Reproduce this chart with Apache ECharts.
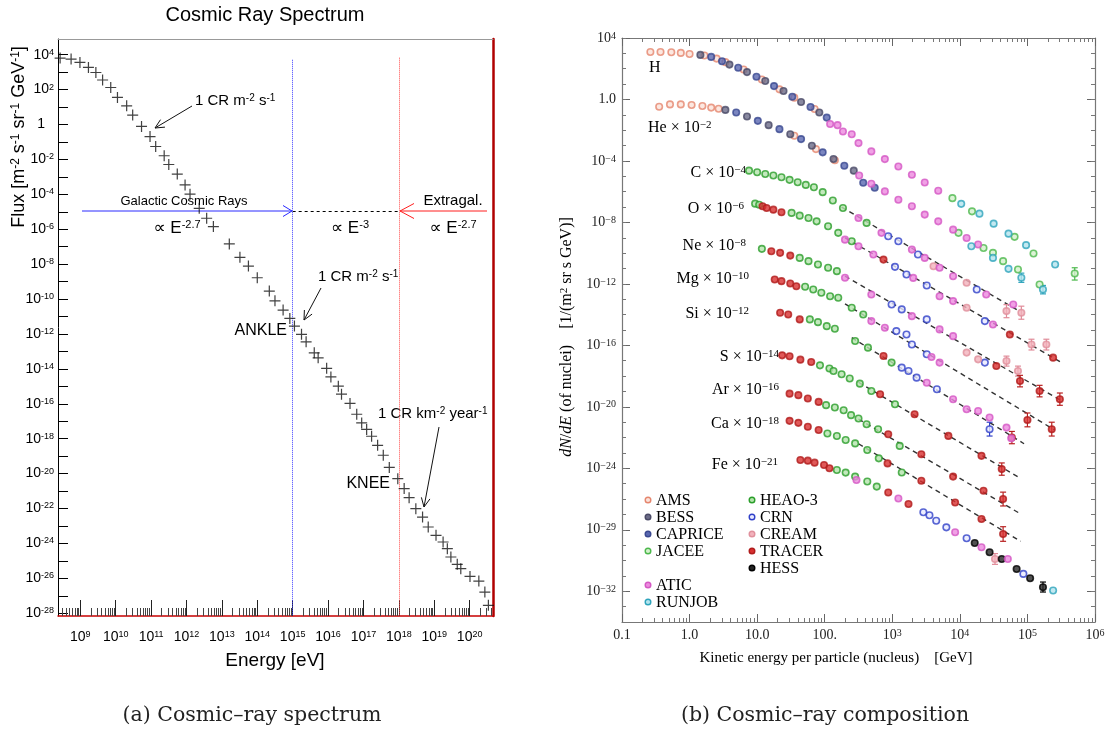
<!DOCTYPE html>
<html>
<head>
<meta charset="utf-8">
<title>Cosmic ray spectrum / composition</title>
<script src="https://cdn.jsdelivr.net/npm/echarts@6/dist/echarts.min.js"></script>
<style>
  html, body { margin: 0; padding: 0; background: #fff; }
  #chart { width: 1107px; height: 733px; }
</style>
</head>
<body>
<div id="chart"></div>
<script>
// ---------- (a) all-particle spectrum: log10(E/eV), log10(flux) ----------
var spectrumLogE = [8.43, 8.74, 8.99, 9.23, 9.44, 9.63, 9.86, 10.05, 10.31, 10.48, 10.73, 10.97, 11.13, 11.37, 11.50,
  11.74, 11.96, 12.10, 12.36, 12.57, 12.76, 13.21, 13.51, 13.75, 14.00, 14.34, 14.50, 14.73, 14.92, 15.05, 15.25,
  15.38, 15.61, 15.72, 15.96, 16.08, 16.29, 16.38, 16.62, 16.81, 16.95, 17.09, 17.23, 17.40, 17.56, 17.73, 17.97,
  18.15, 18.29, 18.48, 18.67, 18.83, 19.05, 19.25, 19.37, 19.47, 19.65, 19.75, 20.01, 20.26, 20.43, 20.53];
var spectrumLogFlux = [3.81, 3.75, 3.56, 3.27, 2.98, 2.55, 2.12, 1.55, 1.07, 0.54, -0.11, -0.69, -1.26, -1.79, -2.29,
  -2.84, -3.46, -3.99, -4.80, -5.37, -5.85, -6.84, -7.61, -8.11, -8.78, -9.54, -10.10, -10.63, -11.11, -11.55, -12.02,
  -12.45, -13.08, -13.37, -13.97, -14.46, -14.99, -15.45, -15.98, -16.60, -17.10, -17.47, -17.86, -18.38, -18.95, -19.65, -20.29,
  -20.86, -21.38, -22.01, -22.49, -23.06, -23.54, -23.92, -24.30, -24.78, -25.20, -25.45, -25.89, -26.16, -26.79, -27.55];
var leftXTicks = [9, 10, 11, 12, 13, 14, 15, 16, 17, 18, 19, 20];
var leftYTicks = [-28, -26, -24, -22, -20, -18, -16, -14, -12, -10, -8, -6, -4, -2, 0, 2, 4];
var kneeAnkleE = [15, 18];

// ---------- (b) composition: [log10(E/GeV), log10(dN/dE)] per experiment ----------
var amsPts = [[-0.58,3.09],[-0.43,3.09],[-0.27,3.07],[-0.13,3.03],[0.00,2.96],[0.22,2.86],[0.40,2.66],[0.53,2.43],
  [0.80,1.95],[1.07,1.30],[1.33,0.66],[1.55,0.12],[1.85,-0.62],
  [-0.45,-0.47],[-0.29,-0.32],[-0.13,-0.32],[0.03,-0.36],[0.19,-0.42],[0.32,-0.53],[0.43,-0.60],[1.55,-2.36],[1.87,-3.23],[2.15,-3.95]];
var bessPts = [[0.16,2.90],[0.59,2.27],[0.85,1.78],[1.12,1.20],[1.39,0.55],[1.65,-0.16],[1.92,-0.85],
  [0.53,-0.68],[0.85,-1.11],[1.17,-1.67],[1.49,-2.26],[1.81,-3.01],[2.13,-3.87],[2.43,-4.63]];
var capricePts = [[0.32,2.77],[0.48,2.49],[0.72,2.06],[0.99,1.48],[1.25,0.87],[1.52,0.18],[1.79,-0.49],[2.03,-1.18],
  [0.69,-0.85],[1.01,-1.39],[1.33,-1.93],[1.65,-2.58],[1.97,-3.44],[2.29,-4.31],[2.57,-5.42],[2.74,-5.74]];
var jaceePts = [[3.89,-6.42],[4.18,-7.28],[4.81,-8.94],[5.09,-10.02],[5.70,-11.32],
  [3.98,-8.68],[4.35,-9.66],[4.49,-9.98],[4.64,-10.52],[4.86,-11.06],[5.18,-12.04]];
var heaoPts = [[0.88,-4.63],[1.00,-4.74],[1.12,-4.85],[1.24,-4.95],[1.36,-5.06],[1.48,-5.23],[1.60,-5.39],[1.72,-5.56],
  [1.84,-5.71],[1.97,-6.03],[2.12,-6.57],[2.27,-7.06],[2.62,-8.03],
  [0.97,-6.78],[1.03,-6.85],[1.51,-7.38],[1.63,-7.56],[1.76,-7.71],[1.88,-7.93],[2.05,-8.25],[2.20,-8.68],[2.40,-9.23],
  [1.07,-9.72],[1.63,-10.31],[1.76,-10.52],[1.90,-10.74],[2.05,-10.95],[2.18,-11.17],
  [1.71,-12.19],[1.83,-12.36],[1.95,-12.58],[2.08,-12.80],[2.20,-12.90],[2.40,-13.55],[2.57,-13.99],
  [1.78,-14.31],[1.90,-14.49],[2.03,-14.75],[2.15,-14.92],[2.45,-15.72],[2.64,-16.15],[2.99,-17.12],
  [1.93,-17.30],[2.07,-17.51],[2.13,-17.67],[2.25,-17.88],[2.37,-18.16],[2.52,-18.49],[2.69,-18.97],[3.04,-19.83],
  [2.02,-19.89],[2.15,-20.04],[2.28,-20.22],[2.39,-20.54],[2.50,-20.76],[2.62,-21.13],[2.79,-21.46],[3.11,-22.54],
  [2.04,-21.73],[2.18,-21.90],[2.31,-22.16],[2.45,-22.38],[2.63,-22.81],[2.80,-23.35],[3.14,-24.27],
  [2.18,-24.11],[2.31,-24.28],[2.45,-24.54],[2.63,-24.86],[2.77,-25.19]];
var crnPts = [[2.94,-8.90],[3.09,-9.23],[3.38,-10.09],[4.25,-12.36],
  [3.04,-10.89],[3.21,-11.39],[3.51,-12.10],[4.37,-14.42],
  [2.99,-13.34],[3.14,-13.66],[3.51,-14.31],[4.37,-17.12],
  [3.06,-15.07],[3.21,-15.29],[3.29,-15.94],[3.51,-16.58],
  [3.14,-17.45],[3.24,-17.67],[3.36,-18.10],[3.66,-18.86],[4.44,-21.46],
  [3.46,-26.86],[3.55,-27.05],[3.65,-27.41],[3.80,-27.84],[4.10,-28.55],[4.94,-30.87]];
var creamPts = [[3.61,-10.85],[4.10,-11.93],[4.69,-13.77],[4.91,-13.88],
  [4.10,-13.55],[5.06,-15.94],[5.28,-15.94],
  [4.10,-16.47],[4.27,-16.91],[4.69,-17.02],[4.86,-17.67],
  [4.52,-29.90]];
var tracerPts = [[1.08,-6.95],[1.14,-7.06],[1.24,-7.17],[1.36,-7.34],[2.87,-10.42],[4.74,-15.29],[5.38,-16.80],
  [1.21,-9.88],[1.34,-9.98],[1.49,-10.16],[4.54,-17.34],[4.89,-18.32],[5.18,-18.97],[5.48,-19.51],
  [1.26,-11.71],[1.36,-11.82],[1.49,-11.97],[1.58,-12.15],[5.00,-20.86],[5.36,-21.46],
  [1.34,-13.88],[1.46,-13.99],[1.63,-14.31],[2.87,-16.69],[4.77,-22.00],
  [1.37,-16.65],[1.48,-16.71],[1.64,-16.93],[1.80,-17.08],[2.82,-19.18],[3.33,-20.48],[3.83,-21.89],[4.32,-23.19],[4.62,-24.05],
  [1.48,-19.14],[1.61,-19.24],[1.75,-19.46],[1.91,-19.68],[2.94,-21.78],[3.43,-23.08],[3.90,-24.54],[4.35,-25.46],[4.64,-26.00],
  [1.48,-20.91],[1.61,-21.04],[1.75,-21.30],[1.91,-21.51],[2.93,-23.68],[3.43,-24.81],[3.93,-26.22],[4.32,-27.30],[4.64,-28.27],
  [1.64,-23.46],[1.75,-23.50],[1.85,-23.63],[1.99,-23.78],[2.07,-24.00],[2.94,-25.57],[3.24,-26.32]];
var hessPts = [[4.22,-28.86],[4.44,-29.46],[4.62,-29.90],[4.84,-30.55],[5.04,-31.15],[5.23,-31.74]];
var aticPts = [[2.08,-1.60],[2.19,-1.67],[2.27,-2.08],[2.40,-2.26],[2.50,-2.84],[2.69,-3.38],[2.89,-3.88],[3.09,-4.36],[3.29,-4.90],[3.48,-5.40],[3.68,-5.94],
  [2.51,-4.95],[2.69,-5.48],[2.89,-5.98],[3.09,-6.52],[3.29,-6.95],[3.48,-7.49],[3.68,-7.93],[3.90,-8.47],[4.10,-9.01],[4.27,-9.44],
  [2.50,-7.71],[2.84,-8.68],[3.29,-9.77],[3.48,-10.31],[3.70,-10.95],[3.90,-11.50],[4.39,-12.69],[4.79,-13.34],
  [2.30,-9.12],[2.50,-9.55],[2.72,-10.09],[3.31,-11.61],[3.70,-12.80],[3.90,-13.12],[4.49,-14.64],
  [2.30,-11.60],[2.69,-12.69],[3.29,-14.10],[3.70,-14.96],[3.90,-15.40],
  [2.69,-14.42],[2.89,-14.85],[3.58,-16.76],[3.70,-17.12],
  [3.51,-18.43],[3.90,-19.51],[4.10,-20.16],[4.27,-20.27],[4.44,-20.69],[4.69,-21.35],[4.76,-22.05],
  [2.47,-24.76],[3.09,-25.96],[3.93,-28.16],[4.32,-29.14],[4.71,-29.90]];
var runjobPts = [[4.02,-6.79],[4.29,-7.43],[4.50,-8.08],[4.72,-8.73],[4.98,-9.48],[5.41,-10.74],
  [4.17,-9.55],[4.49,-10.31],[4.72,-11.02],[4.91,-11.60],[5.23,-12.36],
  [5.38,-31.95]];

// error bars: [log10 E, low, high]
var jaceeErr = [[5.70,-11.75,-10.95]];
var runjobErr = [[4.91,-11.90,-11.30],[5.23,-12.65,-12.10]];
var creamErr = [[4.69,-14.20,-13.35],[4.91,-14.30,-13.45],[5.06,-16.30,-15.60],[5.28,-16.30,-15.60],[4.69,-17.35,-16.70],[4.86,-18.00,-17.35],[4.52,-30.25,-29.55]];
var tracerErr = [[4.62,-24.45,-23.65],[4.64,-26.45,-25.55],[4.64,-28.75,-27.80],[4.89,-18.70,-17.95],[5.18,-19.35,-18.60],[5.48,-19.90,-19.10],[5.00,-21.30,-20.40],[5.36,-21.90,-21.00],[4.77,-22.40,-21.60]];
var crnErr = [[4.44,-21.90,-21.00]];
var hessErr = [[5.23,-32.05,-31.40]];

// dashed power-law fits, [[E1,F1],[E2,F2]]
var fitLines = [
  [[2.25,-7.00],[4.85,-13.70]],
  [[2.30,-9.00],[5.50,-17.10]],
  [[2.30,-11.50],[5.50,-19.60]],
  [[2.30,-13.30],[5.40,-21.50]],
  [[2.40,-15.50],[4.95,-22.40]],
  [[2.50,-18.40],[4.90,-24.66]],
  [[2.50,-20.80],[4.90,-26.97]],
  [[2.50,-22.40],[4.90,-28.75]]
];
var rightXTicks = [-1, 0, 1, 2, 3, 4, 5, 6];
var rightXLabels = ['0.1', '1.0', '10.0', '100.', '10{s|3}', '10{s|4}', '10{s|5}', '10{s|6}'];
var rightYTicks = [4, 0, -4, -8, -12, -16, -20, -24, -28, -32];
var rightYLabels = ['10{s|4}', '1.0', '10{s|−4}', '10{s|−8}', '10{s|−12}', '10{s|−16}', '10{s|−20}', '10{s|−24}', '10{s|−29}', '10{s|−32}'];

// ---------------------------------------------------------------
var SANS = 'Liberation Sans, Arial, DejaVu Sans, sans-serif';
var SERIF = 'Liberation Serif, Times New Roman, DejaVu Serif, serif';

function range(a, b) { var r = []; for (var i = a; i <= b; i++) r.push(i); return r; }
function logMinor(lo, hi) {
  var out = [];
  for (var n = Math.floor(lo); n <= Math.ceil(hi); n++) {
    for (var k = 2; k <= 9; k++) {
      var v = n + Math.log10(k);
      if (v > lo && v < hi) out.push(v);
    }
  }
  return out;
}
function supRich(font, base, sup, color) {
  return {
    b: { fontFamily: font, fontSize: base, lineHeight: base, verticalAlign: 'middle', color: color },
    s: { fontFamily: font, fontSize: sup, lineHeight: 3, verticalAlign: 'top', color: color },
    one: { fontFamily: font, fontSize: base, lineHeight: base, color: color, padding: [0, 9, 0, 0] }
  };
}
var richL = supRich(SANS, 14, 9, '#000');
var richR = supRich(SERIF, 14, 10, '#222');

var LX = [8.37, 20.66], LY = [-28.16, 4.9];
var RX = [-1, 6], RY = [-34, 4];

function plainAxis(grid, pos, mm, line) {
  return {
    gridIndex: grid, type: 'value', position: pos, min: mm[0], max: mm[1],
    axisLine: { show: true, onZero: false, lineStyle: line },
    axisTick: { show: false }, axisLabel: { show: false }, splitLine: { show: false }
  };
}
function tickAxis(grid, pos, mm, vals, len, color) {
  return {
    gridIndex: grid, type: 'value', position: pos, min: mm[0], max: mm[1],
    axisLine: { show: false, onZero: false },
    axisTick: { show: true, inside: true, length: len, customValues: vals, lineStyle: { color: color, width: 1 } },
    axisLabel: { show: false }, splitLine: { show: false }
  };
}

var xAxes = [
  // 0: left panel, bottom, decades + labels
  {
    gridIndex: 0, type: 'value', position: 'bottom', min: LX[0], max: LX[1],
    axisLine: { show: true, onZero: false, lineStyle: { color: '#c80000', width: 1.5 } },
    axisTick: { show: true, inside: true, length: 16, customValues: leftXTicks, lineStyle: { color: '#222' } },
    axisLabel: { show: true, customValues: leftXTicks, margin: 14, rich: richL,
      formatter: function (v) { return '{b|10}{s|' + v + '}'; } },
    splitLine: { show: false }
  },
  // 1: left panel, log minor ticks
  tickAxis(0, 'bottom', LX, logMinor(LX[0], LX[1]), 8, '#444'),
  // 2: left panel top border
  plainAxis(0, 'top', LX, { color: '#999', width: 1 }),
  // 3: right panel bottom, decades + labels
  {
    gridIndex: 1, type: 'value', position: 'bottom', min: RX[0], max: RX[1],
    axisLine: { show: true, onZero: false, lineStyle: { color: '#777', width: 1.2 } },
    axisTick: { show: true, inside: true, length: 8, customValues: rightXTicks, lineStyle: { color: '#666' } },
    axisLabel: { show: true, customValues: rightXTicks, margin: 6, rich: richR,
      formatter: function (v) { var t = rightXLabels[rightXTicks.indexOf(v)]; return t.indexOf('{') < 0 ? '{b|' + t + '}' : t.replace('10{', '{b|10}{'); } },
    splitLine: { show: false }
  },
  tickAxis(1, 'bottom', RX, logMinor(RX[0], RX[1]), 4, '#777'),
  {
    gridIndex: 1, type: 'value', position: 'top', min: RX[0], max: RX[1],
    axisLine: { show: true, onZero: false, lineStyle: { color: '#777', width: 1.2 } },
    axisTick: { show: true, inside: true, length: 8, customValues: rightXTicks, lineStyle: { color: '#666' } },
    axisLabel: { show: false }, splitLine: { show: false }
  },
  tickAxis(1, 'top', RX, logMinor(RX[0], RX[1]), 4, '#777')
];

var yAxes = [
  // 0: left panel flux axis
  {
    gridIndex: 0, type: 'value', position: 'left', min: LY[0], max: LY[1],
    axisLine: { show: true, onZero: false, lineStyle: { color: '#000', width: 1 } },
    axisTick: { show: true, inside: true, length: 10, customValues: range(-28, 4), lineStyle: { color: '#000' } },
    axisLabel: { show: true, customValues: leftYTicks, margin: 4, rich: richL,
      formatter: function (v) { return v === 0 ? '{one|1}' : '{b|10}{s|' + v + '}'; } },
    splitLine: { show: false }
  },
  // 1: left panel right border
  plainAxis(0, 'right', LY, { color: '#b00000', width: 2.5 }),
  // 2: right panel left axis
  {
    gridIndex: 1, type: 'value', position: 'left', min: RY[0], max: RY[1],
    axisLine: { show: true, onZero: false, lineStyle: { color: '#777', width: 1.2 } },
    axisTick: { show: true, inside: true, length: 8, customValues: rightYTicks, lineStyle: { color: '#666' } },
    axisLabel: { show: true, customValues: rightYTicks, margin: 6, rich: richR,
      formatter: function (v) { var t = rightYLabels[rightYTicks.indexOf(v)]; return t.indexOf('{') < 0 ? '{b|' + t + '}' : t.replace('10{', '{b|10}{'); } },
    splitLine: { show: false }
  },
  tickAxis(1, 'left', RY, range(-34, 4), 4, '#777'),
  {
    gridIndex: 1, type: 'value', position: 'right', min: RY[0], max: RY[1],
    axisLine: { show: true, onZero: false, lineStyle: { color: '#777', width: 1.2 } },
    axisTick: { show: true, inside: true, length: 8, customValues: rightYTicks, lineStyle: { color: '#666' } },
    axisLabel: { show: false }, splitLine: { show: false }
  },
  tickAxis(1, 'right', RY, range(-34, 4), 4, '#777')
];

var plusSymbol = 'path://M4.45,0H5.55V4.45H10V5.55H5.55V10H4.45V5.55H0V4.45H4.45Z';

var series = [];
series.push({
  type: 'scatter', xAxisIndex: 0, yAxisIndex: 0,
  data: spectrumLogE.map(function (e, i) { return [e, spectrumLogFlux[i]]; }),
  symbol: plusSymbol, symbolSize: 11, itemStyle: { color: '#111' }, z: 5,
  markLine: {
    silent: true, symbol: 'none', label: { show: false },
    data: [
      [{ coord: [kneeAnkleE[0], 3.71], lineStyle: { color: '#3c3cff', type: 'dotted', width: 1 } }, { coord: [kneeAnkleE[0], LY[0]] }],
      [{ coord: [kneeAnkleE[1], 3.83], lineStyle: { color: '#ff4c4c', type: 'dotted', width: 1 } }, { coord: [kneeAnkleE[1], LY[0]] }],
      [{ coord: [kneeAnkleE[0], -4.95], lineStyle: { color: '#000', type: [3, 3], width: 1 } }, { coord: [kneeAnkleE[1], -4.95] }]
    ]
  }
});

var experiments = [
  { name: 'HEAO-3', pts: heaoPts, fill: '#b4e4ac', stroke: '#2a9e2a' },
  { name: 'AMS', pts: amsPts, fill: '#fbe2da', stroke: '#e5866e' },
  { name: 'BESS', pts: bessPts, fill: '#6c6c88', stroke: '#4a4a66' },
  { name: 'CAPRICE', pts: capricePts, fill: '#5a68b0', stroke: '#3a4890' },
  { name: 'JACEE', pts: jaceePts, fill: '#d4f0cc', stroke: '#4cb84c' },
  { name: 'CRN', pts: crnPts, fill: '#e8eaff', stroke: '#3040c8' },
  { name: 'CREAM', pts: creamPts, fill: '#f2b2bc', stroke: '#e0909c' },
  { name: 'TRACER', pts: tracerPts, fill: '#d83030', stroke: '#b01c1c' },
  { name: 'HESS', pts: hessPts, fill: '#262626', stroke: '#000' },
  { name: 'ATIC', pts: aticPts, fill: '#ec8ade', stroke: '#d458c4' },
  { name: 'RUNJOB', pts: runjobPts, fill: '#b4e4ee', stroke: '#2ea4bc' }
];
var errSets = [
  { list: jaceeErr, color: '#4cb84c' }, { list: runjobErr, color: '#2ea4bc' }, { list: creamErr, color: '#e08a98' },
  { list: tracerErr, color: '#b82020' }, { list: crnErr, color: '#3040c8' }, { list: hessErr, color: '#000' }
];

fitLines.forEach(function (seg) {
  series.push({
    type: 'line', xAxisIndex: 3, yAxisIndex: 2, data: seg, symbol: 'none', silent: true, z: 2,
    lineStyle: { color: '#333', width: 1.4, type: [5, 4] }
  });
});
errSets.forEach(function (es) {
  series.push({
    type: 'custom', xAxisIndex: 3, yAxisIndex: 2, data: es.list, z: 3, silent: true,
    encode: { x: 0, y: [1, 2] },
    renderItem: function (params, api) {
      var a = api.coord([api.value(0), api.value(1)]);
      var b = api.coord([api.value(0), api.value(2)]);
      var st = { stroke: es.color, lineWidth: 1.2 };
      return { type: 'group', children: [
        { type: 'line', shape: { x1: a[0], y1: a[1], x2: b[0], y2: b[1] }, style: st },
        { type: 'line', shape: { x1: a[0] - 3, y1: a[1], x2: a[0] + 3, y2: a[1] }, style: st },
        { type: 'line', shape: { x1: b[0] - 3, y1: b[1], x2: b[0] + 3, y2: b[1] }, style: st }
      ] };
    }
  });
});
experiments.forEach(function (ex) {
  series.push({
    type: 'scatter', name: ex.name, xAxisIndex: 3, yAxisIndex: 2, data: ex.pts,
    symbol: 'circle', symbolSize: 6.5, z: 4,
    itemStyle: { color: ex.fill, borderColor: ex.stroke, borderWidth: 1.6 }
  });
});

// ---------- text & annotation graphics ----------
function txt(x, y, rich, text, opts) {
  var o = { type: 'text', x: x, y: y, silent: true,
    style: { text: text, rich: rich, align: (opts && opts.align) || 'left', verticalAlign: 'middle' } };
  if (opts && opts.rotation) o.rotation = opts.rotation;
  return o;
}
function line(pts, color, w, dash) {
  return { type: 'polyline', silent: true, shape: { points: pts },
    style: { stroke: color, lineWidth: w || 1, fill: null, lineDash: dash || null } };
}
function arrowHead(x1, y1, x2, y2, len, ang, color) {
  var t = Math.atan2(y1 - y2, x1 - x2);
  return line([[x2 + len * Math.cos(t + ang), y2 + len * Math.sin(t + ang)], [x2, y2],
               [x2 + len * Math.cos(t - ang), y2 + len * Math.sin(t - ang)]], color, 1);
}
function sansRich(size, sup, color) {
  return {
    b: { fontFamily: SANS, fontSize: size, lineHeight: size, verticalAlign: 'middle', color: color },
    s: { fontFamily: SANS, fontSize: sup, lineHeight: 3, verticalAlign: 'top', color: color }
  };
}
function serifRich(size, sup, color) {
  return {
    b: { fontFamily: SERIF, fontSize: size, lineHeight: size, verticalAlign: 'middle', color: color },
    i: { fontFamily: SERIF, fontSize: size, lineHeight: size, verticalAlign: 'middle', color: color, fontStyle: 'italic' },
    s: { fontFamily: SERIF, fontSize: sup, lineHeight: 3, verticalAlign: 'top', color: color }
  };
}
var BLUE = '#2a2aff', RED = '#ff1e1e';
var r15k = sansRich(15, 10, '#111');
var g = [];
g.push(txt(265, 15, sansRich(20, 12, '#000'), '{b|Cosmic Ray Spectrum}', { align: 'center' }));
g.push(txt(19, 137, sansRich(18, 12, '#000'), '{b|Flux [m}{s|-2}{b| s}{s|-1}{b| sr}{s|-1}{b| GeV}{s|-1}{b|]}', { align: 'center', rotation: Math.PI / 2 }));
g.push(txt(275, 661, sansRich(19, 12, '#000'), '{b|Energy [eV]}', { align: 'center' }));
// spectral regions
g.push(line([[82, 211], [292, 211]], BLUE, 1));
g.push(line([[283, 205.5], [292, 211], [283, 216.5]], BLUE, 1));
g.push(line([[487, 211], [400, 211]], RED, 1));
g.push(line([[414, 203.5], [400, 211], [414, 218.5]], RED, 1));
g.push(txt(184, 201, sansRich(13, 9, BLUE), '{b|Galactic Cosmic Rays}', { align: 'center' }));
g.push(txt(177, 228, sansRich(17, 11, BLUE), '{b|∝ E}{s|-2.7}', { align: 'center' }));
g.push(txt(350, 228, sansRich(17, 11, '#000'), '{b|∝ E}{s|-3}', { align: 'center' }));
g.push(txt(453, 201, sansRich(15, 10, RED), '{b|Extragal.}', { align: 'center' }));
g.push(txt(453, 228, sansRich(17, 11, RED), '{b|∝ E}{s|-2.7}', { align: 'center' }));
// rate annotations
g.push(txt(195, 101, r15k, '{b|1 CR m}{s|-2}{b| s}{s|-1}'));
g.push(line([[192, 106], [155, 128]], '#111', 1));
g.push(arrowHead(192, 106, 155, 128, 10, 0.45, '#111'));
g.push(txt(318, 277, r15k, '{b|1 CR m}{s|-2}{b| s}{s|-1}'));
g.push(line([[321, 288], [304, 320]], '#111', 1));
g.push(arrowHead(321, 288, 304, 320, 10, 0.45, '#111'));
g.push(txt(378, 414, r15k, '{b|1 CR km}{s|-2}{b| year}{s|-1}'));
g.push(line([[439, 427], [424, 507]], '#111', 1));
g.push(arrowHead(439, 427, 424, 507, 10, 0.45, '#111'));
g.push(txt(287, 331, sansRich(16, 10, BLUE), '{b|ANKLE}', { align: 'right' }));
g.push(txt(390, 484, sansRich(16, 10, RED), '{b|KNEE}', { align: 'right' }));

// right panel titles
g.push(txt(567, 337, serifRich(16, 11, '#222'), '{i|dN}{b|/}{i|dE}{b| (of nuclei)    [1/(m}{s|2}{b| sr s GeV)]}', { align: 'center', rotation: Math.PI / 2 }));
g.push(txt(836, 658, serifRich(15, 10, '#222'), '{b|Kinetic energy per particle (nucleus)    [GeV]}', { align: 'center' }));
// element tags
var elemRich = serifRich(16, 11, '#222');
g.push(txt(649, 68, elemRich, '{b|H}'));
g.push(txt(648, 128, elemRich, '{b|He × 10}{s|−2}'));
g.push(txt(746, 173, elemRich, '{b|C × 10}{s|−4}', { align: 'right' }));
g.push(txt(744, 209, elemRich, '{b|O × 10}{s|−6}', { align: 'right' }));
g.push(txt(746, 246, elemRich, '{b|Ne × 10}{s|−8}', { align: 'right' }));
g.push(txt(749, 279, elemRich, '{b|Mg × 10}{s|−10}', { align: 'right' }));
g.push(txt(749, 314, elemRich, '{b|Si × 10}{s|−12}', { align: 'right' }));
g.push(txt(779, 357, elemRich, '{b|S × 10}{s|−14}', { align: 'right' }));
g.push(txt(779, 390, elemRich, '{b|Ar × 10}{s|−16}', { align: 'right' }));
g.push(txt(779, 424, elemRich, '{b|Ca × 10}{s|−18}', { align: 'right' }));
g.push(txt(778, 465, elemRich, '{b|Fe × 10}{s|−21}', { align: 'right' }));
// legend
var legendSlots = [
  ['AMS', 648, 500], ['BESS', 648, 517], ['CAPRICE', 648, 534], ['JACEE', 648, 551], ['ATIC', 648, 585], ['RUNJOB', 648, 602],
  ['HEAO-3', 752, 500], ['CRN', 752, 517], ['CREAM', 752, 534], ['TRACER', 752, 551], ['HESS', 752, 568]
];
legendSlots.forEach(function (ls) {
  var ex = experiments.filter(function (e) { return e.name === ls[0]; })[0];
  g.push({ type: 'circle', silent: true, shape: { cx: ls[1], cy: ls[2], r: 2.8 },
    style: { fill: ex.fill, stroke: ex.stroke, lineWidth: 1.4 } });
  g.push(txt(ls[1] + 8, ls[2] + 1, serifRich(16, 10, '#222'), '{b|' + ls[0] + '}'));
});
// captions
g.push({ type: 'text', x: 252, y: 716, silent: true, style: { text: '(a) Cosmic–ray spectrum', font: '20.5px DejaVu Serif', fill: '#222', align: 'center', verticalAlign: 'middle' } });
g.push({ type: 'text', x: 825, y: 716, silent: true, style: { text: '(b) Cosmic–ray composition', font: '20.5px DejaVu Serif', fill: '#222', align: 'center', verticalAlign: 'middle' } });

var chart = echarts.init(document.getElementById('chart'));
chart.setOption({
  animation: false,
  backgroundColor: '#fff',
  grid: [
    { left: 58, top: 39, width: 435, height: 577, outerBoundsMode: 'none' },
    { left: 622, top: 38, width: 473, height: 584, outerBoundsMode: 'none' }
  ],
  xAxis: xAxes,
  yAxis: yAxes,
  series: series,
  graphic: g
});
</script>
</body>
</html>
